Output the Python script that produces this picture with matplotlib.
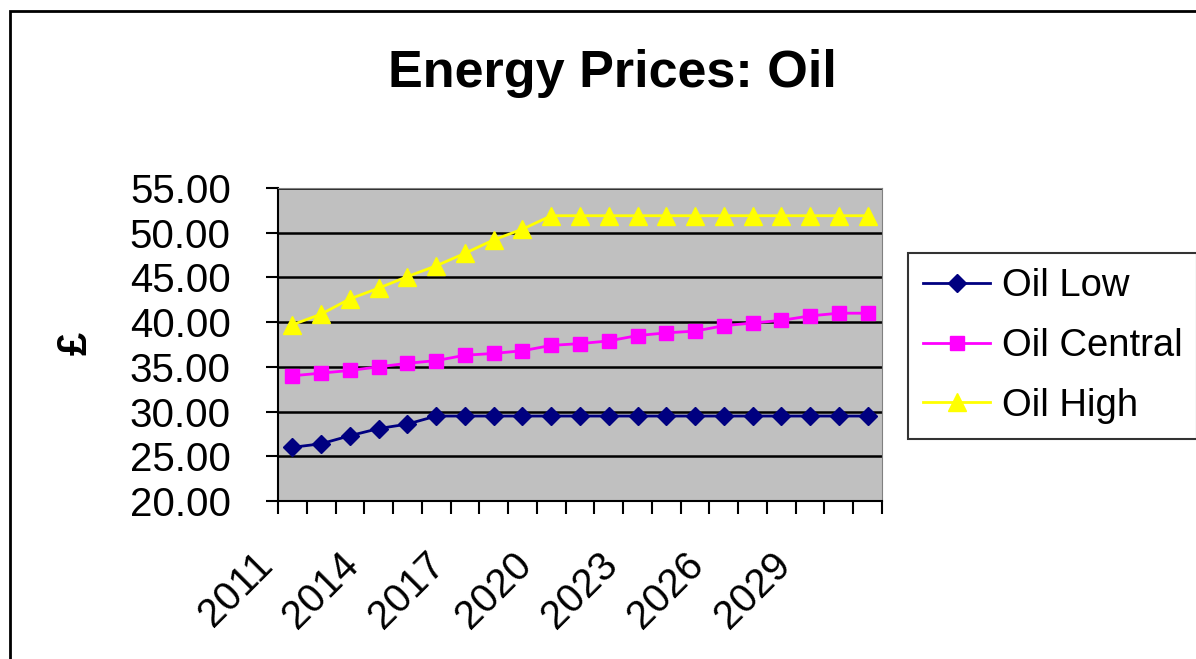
import matplotlib
matplotlib.use('Agg')
import matplotlib.pyplot as plt
import matplotlib.transforms as mtransforms
from matplotlib.patches import Rectangle
import numpy as np

plt.rcParams.update({
    'font.family': ['Liberation Sans', 'DejaVu Sans'],
    'figure.facecolor': 'white',
})

# Oil price scenarios, £ per barrel
years       = list(range(2011, 2032))
oil_low     = [26.0, 26.4, 27.3, 28.1, 28.6, 29.5, 29.5, 29.5, 29.5, 29.5, 29.5,
               29.5, 29.5, 29.5, 29.5, 29.5, 29.5, 29.5, 29.5, 29.5, 29.5]
oil_central = [34.0, 34.3, 34.6, 35.0, 35.4, 35.7, 36.3, 36.5, 36.8, 37.4, 37.6,
               37.9, 38.5, 38.8, 39.0, 39.6, 39.9, 40.2, 40.7, 41.0, 41.0]
oil_high    = [39.7, 40.9, 42.6, 43.8, 45.1, 46.3, 47.7, 49.2, 50.4, 51.9, 51.9,
               51.9, 51.9, 51.9, 51.9, 51.9, 51.9, 51.9, 51.9, 51.9, 51.9]
y_ticks     = [20, 25, 30, 35, 40, 45, 50, 55]

W, H = 1196, 659
fig = plt.figure(figsize=(W / 100, H / 100), dpi=100)

# outer chart frame
fig.patches.append(Rectangle((10 / W, -0.1), 1.2, 1 - 11 / H + 0.1,
                             transform=fig.transFigure, fill=False,
                             edgecolor='black', linewidth=2))

ax = fig.add_axes([278 / W, 1 - 501 / H, 604 / W, 313 / H])
ax.set_facecolor('#C0C0C0')

x = np.arange(len(years))
ax.plot(x, oil_low, color='#000080', lw=2, marker='D', ms=9.5,
        label='Oil Low', zorder=3)
ax.plot(x, oil_central, color='#FF00FF', lw=2, marker='s', ms=10.5,
        label='Oil Central', zorder=3)
ax.plot(x, oil_high, color='#FFFF00', lw=2, marker='^', ms=13,
        label='Oil High', zorder=3)

ax.set_xlim(-0.5, len(years) - 0.5)
ax.set_ylim(20, 55)
ax.set_yticks(y_ticks)
ax.set_yticklabels([f'{v:.2f}' for v in y_ticks], fontsize=29)
ax.yaxis.grid(True, color='black', linewidth=1.8)
ax.set_axisbelow(True)

# category boundaries carry the ticks, every third one labelled
ax.set_xticks(np.arange(len(years) + 1) - 0.5)
ax.set_xticklabels([str(years[i]) if i < len(years) and i % 3 == 0 else ''
                    for i in range(len(years) + 1)],
                   fontsize=29, rotation=45, ha='right', va='top',
                   rotation_mode='anchor')

ax.tick_params(axis='y', direction='out', length=9, width=1.5, pad=25)
ax.tick_params(axis='x', direction='out', length=9, width=1.5, pad=23)
ax.spines['left'].set_linewidth(1.5)
ax.spines['bottom'].set_linewidth(1.5)
ax.spines['top'].set_color('#808080')
ax.spines['right'].set_color('#808080')

# nudge the slanted year labels left of their tick
offset = mtransforms.ScaledTranslation(-25 / 100, 0, fig.dpi_scale_trans)
for lbl in ax.get_xticklabels():
    lbl.set_transform(lbl.get_transform() + offset)

fig.text(612 / W, 1 - 87 / H, 'Energy Prices: Oil', ha='center',
         va='baseline', fontsize=37.5, fontweight='bold')
fig.text(76 / W, 1 - 343 / H, '£', rotation=90, ha='center', va='center',
         fontsize=30, fontweight='bold')

leg = fig.legend(loc='upper left', bbox_to_anchor=(908 / W, 1 - 253 / H),
                 bbox_transform=fig.transFigure, fontsize=27.5,
                 frameon=True, fancybox=False, edgecolor='black',
                 borderpad=0.4, borderaxespad=0, handlelength=1.75,
                 handletextpad=0.3, labelspacing=0.62)
leg.get_frame().set_linewidth(1.5)

plt.savefig('out.png', dpi=100)
